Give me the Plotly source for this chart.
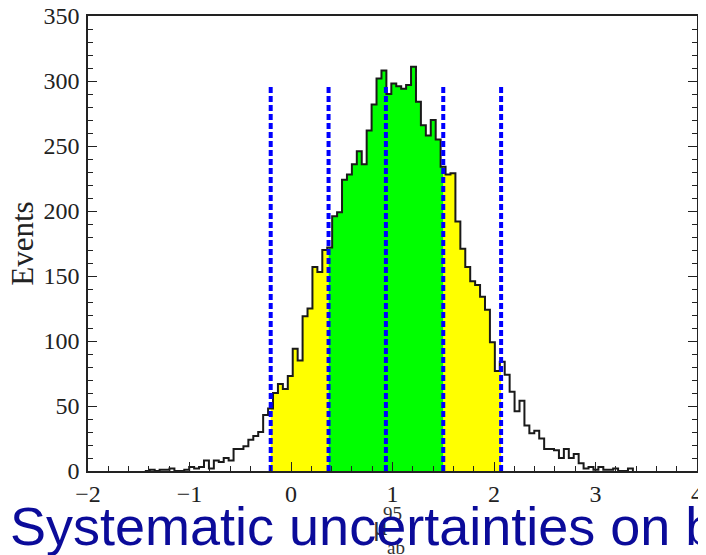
import numpy as np
import plotly.graph_objects as go

# ---- data ----
bin_start = -1.4401          # lower edge of first bin
bin_width = 0.04857
counts = [0, 1, 0, 1, 1, 2, 0, 0, 1, 3, 2, 3, 8, 2, 8, 7, 10, 8, 17, 17, 19, 24, 27, 30, 43, 48,
          60, 67, 63, 73, 94, 85, 119, 125, 157, 153, 170, 172, 196, 199, 224, 228, 236, 246,
          236, 262, 282, 302, 308, 290, 298, 296, 294, 297, 311, 284, 266, 258, 270, 255, 234,
          228, 229, 192, 171, 157, 146, 143, 134, 124, 99, 77,
          84, 74, 61, 46, 54, 35, 29, 31, 25, 17, 17, 16, 10, 17, 10, 13, 6, 2, 3, 1, 3, 1, 1, 2,
          0, 0, 2]
quantiles = [-0.20, 0.37, 0.935, 1.50, 2.07]   # -2s, -1s, median, +1s, +2s
quantile_line_top = 297
x_ticks = [-2, -1, 0, 1, 2, 3, 4]
x_ticklabels = ["\u22122", "\u22121", "0", "1", "2", "3", "4"]
y_ticks = [0, 50, 100, 150, 200, 250, 300, 350]

counts = np.array(counts, dtype=float)
edges = bin_start + bin_width * np.arange(len(counts) + 1)


def value_at(x):
    i = int(np.floor((x - bin_start) / bin_width))
    i = min(max(i, 0), len(counts) - 1)
    return counts[i]


def region(a, b):
    xs = [a] + [e for e in edges if a < e < b] + [b]
    ys = [value_at(x + 1e-9) for x in xs[:-1]] + [value_at(b - 1e-9)]
    return xs, ys


fig = go.Figure()

for (a, b, col) in [(quantiles[0], quantiles[1], "#ffff00"),
                    (quantiles[3], quantiles[4], "#ffff00"),
                    (quantiles[1], quantiles[3], "#00ff00")]:
    xs, ys = region(a, b)
    fig.add_trace(go.Scatter(x=xs, y=ys, mode="lines", line=dict(width=0, shape="hv"),
                             fill="tozeroy", fillcolor=col, hoverinfo="skip",
                             showlegend=False))

# histogram outline
ox = [edges[0]] + list(edges) + [edges[-1]]
oy = [0] + list(counts) + [counts[-1], 0]
fig.add_trace(go.Scatter(x=ox, y=oy, mode="lines",
                         line=dict(color="#1a1a1a", width=2, shape="hv"),
                         showlegend=False, hoverinfo="skip"))

for q in quantiles:
    fig.add_trace(go.Scatter(x=[q, q], y=[0, quantile_line_top], mode="lines",
                             line=dict(color="#0000ff", width=4, dash="6px,3px"),
                             showlegend=False, hoverinfo="skip"))

serif = "Liberation Serif"
# the page body keeps its default 8px margin, so the figure is 8px smaller
fig.update_layout(
    width=698, height=547,
    margin=dict(l=80, r=9, t=8, b=84),
    paper_bgcolor="white", plot_bgcolor="white",
    xaxis=dict(range=[-2, 4], tickvals=x_ticks, ticktext=x_ticklabels, automargin=False,
               ticks="inside", ticklen=9, tickwidth=1.2, tickcolor="#222",
               minor=dict(dtick=0.2, ticks="inside", ticklen=5, tickwidth=1.2, tickcolor="#222"),
               showline=True, linecolor="#222", linewidth=1.6, mirror=True,
               showgrid=False, zeroline=False, ticklabeloverflow="allow",
               tickfont=dict(family=serif, size=24, color="#222"),
               ticklabelstandoff=0),
    yaxis=dict(range=[0, 350], tickvals=y_ticks, automargin=False,
               ticks="inside", ticklen=9, tickwidth=1.2, tickcolor="#222",
               minor=dict(dtick=10, ticks="inside", ticklen=5, tickwidth=1.2, tickcolor="#222"),
               showline=True, linecolor="#222", linewidth=1.6, mirror="ticks",
               showgrid=False, zeroline=False, ticklabeloverflow="allow",
               tickfont=dict(family=serif, size=24, color="#222"),
               ticklabelstandoff=2),
)

fig.add_annotation(text="Events", xref="paper", yref="paper", x=-0.108, y=0.5,
                   textangle=-90, showarrow=False, xanchor="center", yanchor="middle",
                   font=dict(family=serif, size=31, color="#222"))
# x-axis title (partly hidden by the caption)
fig.add_annotation(text="\u03bc", xref="paper", yref="paper", x=(380 - 88) / 609, y=-0.159,
                   showarrow=False, font=dict(family=serif, size=28, color="#333"))
fig.add_annotation(text="95", xref="paper", yref="paper", x=(392 - 88) / 609, y=-0.121,
                   showarrow=False, font=dict(family=serif, size=19, color="#333"))
fig.add_annotation(text="ab", xref="paper", yref="paper", x=(396 - 88) / 609, y=-0.196,
                   showarrow=False, font=dict(family=serif, size=19, color="#333"))
fig.add_annotation(text="Systematic uncertainties on b", xref="paper", yref="paper",
                   x=(8 - 88) / 609, y=-0.12, xanchor="left", yanchor="middle",
                   showarrow=False,
                   font=dict(family="Liberation Sans", size=54, color="#0b0b9a"))

fig.write_html("out.html")
